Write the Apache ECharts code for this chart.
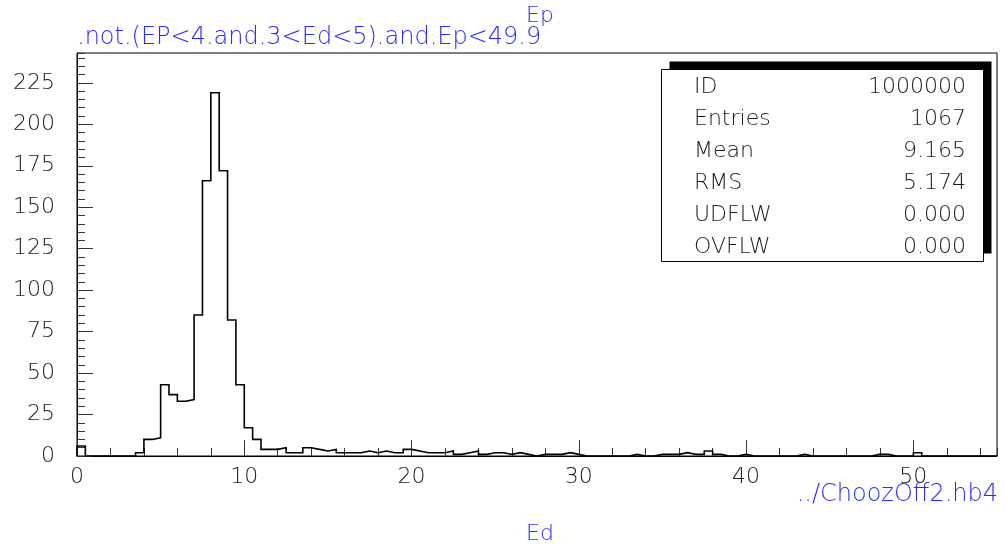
<!DOCTYPE html>
<html>
<head>
<meta charset="utf-8">
<script src="https://cdn.jsdelivr.net/npm/echarts@6/dist/echarts.min.js"></script>
<style>
  html, body { margin: 0; padding: 0; background: #fff; }
  #chart { width: 1005px; height: 548px; }
</style>
</head>
<body>
<div id="chart"></div>
<script>
// Histogram of Ed: 110 bins of width 0.5 from 0 to 55
const xMin = 0;
const xMax = 55;
const binWidth = 0.5;
const counts = [
  6, 0, 0, 0, 0, 0, 0, 2, 10, 11,
  43, 37, 33, 34, 85, 166, 219, 172, 82, 43,
  17, 10, 4, 4, 5, 2, 2, 5, 4, 3,
  4, 2, 2, 2, 3, 2, 3, 2, 2, 4,
  3, 2, 2, 2, 3, 1, 2, 3, 1, 2,
  2, 1, 2, 1, 0, 1, 1, 1, 2, 1,
  0, 0, 0, 0, 0, 0, 1, 0, 0, 1,
  1, 1, 2, 1, 1, 3, 1, 0, 0, 1,
  0, 0, 0, 0, 0, 0, 1, 0, 0, 0,
  0, 0, 0, 0, 0, 1, 1, 0, 0, 0,
  2, 0, 0, 0, 0, 0, 0, 0, 0, 0
];
const yMax = 243;
const xMajor = 10, xMinor = 2;
const yMajor = 25, yMinor = 5;

const titleTop = 'Ep';
const titleCut = '.not.(EP<4.and.3<Ed<5).and.Ep<49.9';
const xTitle = 'Ed';
const fileName = '../ChoozOff2.hb4';

const statLabels = ['ID', 'Entries', 'Mean', 'RMS', 'UDFLW', 'OVFLW'];
const statValues = ['1000000', '1067', '9.165', '5.174', '0.000', '0.000'];

const FONT = "'DejaVu Sans', sans-serif";
const W = 300;
const BLUE = '#2a2aff';
const INK = '#1a1a1a';

// Step outline: each bin contributes its left and right corner at its count
const outline = [[xMin, 0]];
counts.forEach((c, i) => {
  outline.push([xMin + i * binWidth, c]);
  outline.push([xMin + (i + 1) * binWidth, c]);
});
outline.push([xMin + counts.length * binWidth, 0]);

const chart = echarts.init(document.getElementById('chart'), null, { renderer: 'canvas' });

const statGraphics = [];
const boxL = 661.5, boxT = 69.5, boxW = 322, boxH = 192, rowH = 32;
statGraphics.push({
  type: 'rect', shape: { x: boxL + 8, y: boxT - 8, width: boxW, height: boxH },
  style: { fill: '#000' }, z: 10
});
statGraphics.push({
  type: 'rect', shape: { x: boxL, y: boxT, width: boxW, height: boxH },
  style: { fill: '#fff', stroke: '#000', lineWidth: 1 }, z: 11
});
statLabels.forEach((lab, i) => {
  statGraphics.push({
    type: 'text', x: 694, y: 87 + i * rowH, z: 12,
    style: { text: lab, font: W + ' 22px ' + FONT, fill: INK, textAlign: 'left', textVerticalAlign: 'middle' }
  });
  statGraphics.push({
    type: 'text', x: 966, y: 87 + i * rowH, z: 12,
    style: { text: statValues[i], font: W + ' 22px ' + FONT, fill: INK, textAlign: 'right', textVerticalAlign: 'middle' }
  });
});

const option = {
  animation: false,
  backgroundColor: '#fff',
  grid: {
    left: 77, top: 53, right: 8, bottom: 92,
    show: true, borderColor: '#000', borderWidth: 1, backgroundColor: 'transparent'
  },
  xAxis: [
    {
      type: 'value', min: xMin, max: xMax, interval: xMajor, position: 'bottom',
      axisLine: { show: true, onZero: false, lineStyle: { color: '#000', width: 1 } },
      axisTick: { show: true, inside: true, length: 16, lineStyle: { color: '#333' } },
      axisLabel: { show: true, margin: 10, fontFamily: FONT, fontWeight: W, fontSize: 22, color: INK, showMaxLabel: false },
      splitLine: { show: false }
    },
    {
      type: 'value', min: xMin, max: xMax, interval: xMinor, position: 'bottom', offset: 0,
      axisLine: { show: false, onZero: false },
      axisTick: { show: true, inside: true, length: 8, lineStyle: { color: '#333' } },
      axisLabel: { show: false },
      splitLine: { show: false }
    }
  ],
  yAxis: [
    {
      type: 'value', min: 0, max: yMax, interval: yMajor, position: 'left',
      axisLine: { show: true, onZero: false, lineStyle: { color: '#000', width: 1 } },
      axisTick: { show: true, inside: true, length: 16, lineStyle: { color: '#333' } },
      axisLabel: { show: true, margin: 22, fontFamily: FONT, fontWeight: W, fontSize: 22, color: INK, showMaxLabel: false },
      splitLine: { show: false }
    },
    {
      type: 'value', min: 0, max: yMax, interval: yMinor, position: 'left', offset: 0,
      axisLine: { show: false, onZero: false },
      axisTick: { show: true, inside: true, length: 8, lineStyle: { color: '#333' } },
      axisLabel: { show: false },
      splitLine: { show: false }
    }
  ],
  series: [
    {
      type: 'line', xAxisIndex: 0, yAxisIndex: 0,
      data: outline, symbol: 'none',
      lineStyle: { color: '#000', width: 1.6, join: 'miter' },
      z: 5
    }
  ],
  graphic: [
    {
      type: 'text', x: 540, y: 16,
      style: { text: titleTop, font: W + ' 22px ' + FONT, fill: BLUE, textAlign: 'center', textVerticalAlign: 'middle' }
    },
    {
      type: 'text', x: 77, y: 38,
      style: { text: titleCut, font: W + ' 24px ' + FONT, fill: BLUE, textAlign: 'left', textVerticalAlign: 'middle' }
    },
    {
      type: 'text', x: 998, y: 495,
      style: { text: fileName, font: W + ' 24px ' + FONT, fill: BLUE, textAlign: 'right', textVerticalAlign: 'middle' }
    },
    {
      type: 'text', x: 540, y: 534,
      style: { text: xTitle, font: W + ' 22px ' + FONT, fill: BLUE, textAlign: 'center', textVerticalAlign: 'middle' }
    }
  ].concat(statGraphics)
};

chart.setOption(option);
</script>
</body>
</html>
